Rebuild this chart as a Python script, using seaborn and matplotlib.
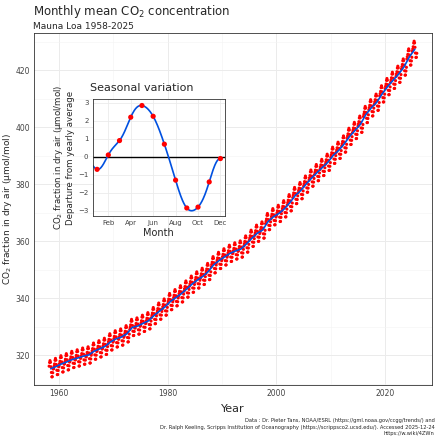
import matplotlib
matplotlib.use("Agg")
import matplotlib.pyplot as plt
import numpy as np
import pandas as pd
import seaborn as sns

sns.set_theme(style="whitegrid")
plt.rcParams['font.family'] = ['DejaVu Sans']

# annual mean CO2 at Mauna Loa (ppm)
years = list(range(1958, 2026))
annual = [315.2, 315.98, 316.91, 317.64, 318.45, 318.99, 319.62, 320.04, 321.37,
          322.18, 323.05, 324.62, 325.68, 326.32, 327.46, 329.68, 330.19, 331.13,
          332.03, 333.84, 335.41, 336.84, 338.76, 340.12, 341.48, 343.15, 344.87,
          346.35, 347.61, 349.31, 351.69, 353.20, 354.45, 355.70, 356.54, 357.21,
          358.96, 360.97, 362.74, 363.88, 366.84, 368.54, 369.71, 371.32, 373.45,
          375.98, 377.70, 379.98, 382.09, 384.02, 385.83, 387.64, 390.10, 391.85,
          394.06, 396.74, 398.81, 401.01, 404.41, 406.76, 408.72, 411.65, 414.21,
          416.41, 418.53, 421.08, 424.61, 427.3]
# seasonal departure from yearly average, Jan..Dec
months = list(range(1, 13))
seasonal = [-0.7, 0.1, 0.9, 2.2, 2.85, 2.25, 0.7, -1.3, -2.85, -2.8, -1.4, -0.1]
month_labels = ['Feb', 'Apr', 'Jun', 'Aug', 'Oct', 'Dec']

rows = []
for y, a in zip(years, annual):
    for m, s in zip(months, seasonal):
        if y == 1958 and m < 3:
            continue
        if y == 2025 and m > 11:
            continue
        rows.append((y + (m - 0.5) / 12, a + s))
monthly = pd.DataFrame(rows, columns=['t', 'co2'])
trend = pd.DataFrame({'t': np.array(years) + 0.5, 'co2': annual})

fig = plt.figure(figsize=(4.41, 4.41), dpi=100)
ax = fig.add_axes([0.078, 0.127, 0.902, 0.798])
sns.scatterplot(data=monthly, x='t', y='co2', color='red', s=5,
                edgecolor='none', ax=ax)
sns.lineplot(data=trend, x='t', y='co2', color='#0050e0', lw=1.2, ax=ax)
ax.set_xlim(1955.5, 2028.7)
ax.set_ylim(309.5, 433)
ax.set_xticks([1960, 1980, 2000, 2020])
ax.set_xticks([1970, 1990, 2010], minor=True)
ax.set_yticks([320, 340, 360, 380, 400, 420])
ax.set_yticks([310, 330, 350, 370, 390, 410, 430], minor=True)
ax.set_xlabel('Year', fontsize=8)
ax.set_ylabel('CO$_2$ fraction in dry air (μmol/mol)', fontsize=6.5, labelpad=1)
ax.tick_params(labelsize=5.5, colors='#444444', length=2, pad=1)
ax.tick_params(which='minor', length=0)
for sp in ax.spines.values():
    sp.set_color('#333333')
    sp.set_linewidth(0.6)
ax.grid(color='#ebebeb', lw=0.7)
ax.grid(which='minor', color='#f3f3f3', lw=0.4)

fig.text(0.075, 0.965, 'Monthly mean CO$_2$ concentration', fontsize=8.5)
fig.text(0.075, 0.935, 'Mauna Loa 1958-2025', fontsize=6.5)
fig.text(0.985, 0.012,
         'Data : Dr. Pieter Tans, NOAA/ESRL (https://gml.noaa.gov/ccgg/trends/) and\n'
         'Dr. Ralph Keeling, Scripps Institution of Oceanography (https://scrippsco2.ucsd.edu/). Accessed 2025-12-24\n'
         'https://w.wiki/4ZWn', fontsize=3.7, ha='right', va='bottom',
         linespacing=1.3)

# inset: seasonal variation
ins = fig.add_axes([0.21, 0.51, 0.30, 0.265])
ins.set_facecolor('white')
c = np.fft.rfft(seasonal)
tt = np.linspace(0.5, 12, 300)
curve = np.full_like(tt, c[0].real / 12)
for k in range(1, 6):
    ang = 2 * np.pi * k * (tt - 1) / 12
    curve += 2 / 12 * (c[k].real * np.cos(ang) - c[k].imag * np.sin(ang))
curve += c[6].real / 12 * np.cos(np.pi * (tt - 1))
ins.axhline(0, color='black', lw=1)
sns.lineplot(x=tt, y=curve, color='#0050e0', lw=1.2, ax=ins)
sns.scatterplot(x=months, y=seasonal, color='red', s=14, edgecolor='none',
                ax=ins, zorder=5)
ins.set_xlim(0.6, 12.4)
ins.set_ylim(-3.3, 3.2)
ins.set_xticks([2, 4, 6, 8, 10, 12])
ins.set_xticklabels(month_labels)
ins.set_yticks([-3, -2, -1, 0, 1, 2, 3])
ins.set_xlabel('Month', fontsize=7, labelpad=1)
ins.set_ylabel('CO$_2$ fraction in dry air (μmol/mol)\nDeparture from yearly average',
               fontsize=6.2, labelpad=2)
ins.set_title('Seasonal variation', fontsize=8, loc='left', x=-0.02)
ins.tick_params(labelsize=5, colors='#444444', length=2, pad=1)
for sp in ins.spines.values():
    sp.set_color('#333333')
    sp.set_linewidth(0.6)
ins.grid(color='#ebebeb', lw=0.6)

fig.savefig('out.png', dpi=100)
